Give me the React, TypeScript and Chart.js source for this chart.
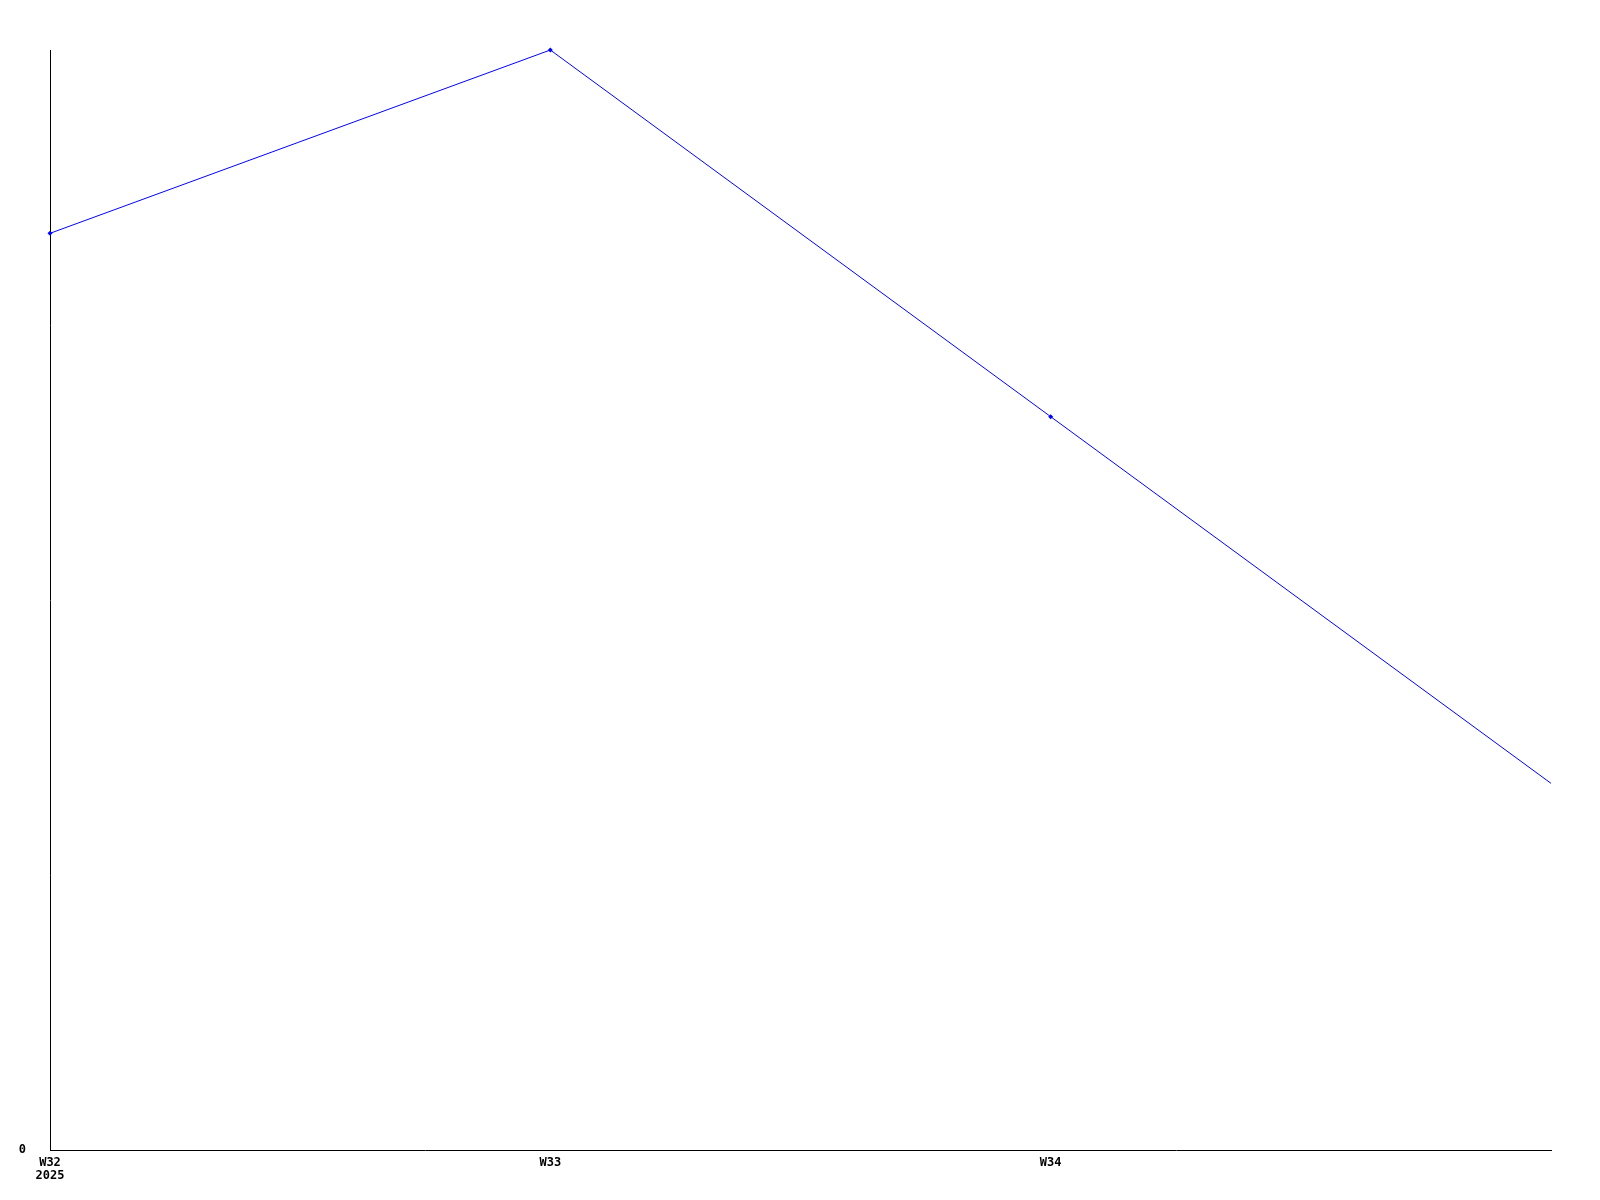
import React, { useEffect, useRef } from "react";
import { Chart, registerables } from "chart.js";

Chart.register(...registerables);

const weeks: (string | string[])[] = [["W32", "2025"], "W33", "W34", ""];
const values: number[] = [5, 6, 4, 2];
const pointSizes: number[] = [2.5, 2.5, 2.5, 0];
const yMin = 0;
const yMax = 6;

export default function App() {
  const ref = useRef<HTMLCanvasElement | null>(null);
  useEffect(() => {
    if (!ref.current) return;
    const chart = new Chart(ref.current, {
      type: "line",
      data: {
        labels: weeks,
        datasets: [
          {
            data: values,
            borderColor: "#0000ff",
            backgroundColor: "#0000ff",
            borderWidth: 1,
            pointRadius: pointSizes,
            pointBorderWidth: 0,
            pointStyle: "rectRot",
            tension: 0,
            fill: false,
            clip: false as any,
          },
        ],
      },
      options: {
        animation: false,
        responsive: false,
        maintainAspectRatio: false,
        layout: { padding: { left: 0, top: 50, right: 49, bottom: 0 } },
        plugins: { legend: { display: false }, tooltip: { enabled: false } },
        scales: {
          x: {
            offset: false,
            grid: { display: false, drawTicks: false },
            border: { display: true, color: "#000000", width: 1 },
            ticks: {
              color: "#000000",
              padding: 6,
              maxRotation: 0,
              autoSkip: false,
              font: { family: "DejaVu Sans Mono", size: 12, weight: "bold", lineHeight: 1.1 },
            },
            afterFit: (s: any) => {
              s.height = 50;
            },
          },
          y: {
            min: yMin,
            max: yMax,
            grid: { display: false, drawTicks: false },
            border: { display: true, color: "#000000", width: 1 },
            ticks: {
              stepSize: yMax,
              color: "#000000",
              padding: 24,
              font: { family: "DejaVu Sans Mono", size: 12, weight: "bold" },
              callback: (v: any) => (Number(v) === 0 ? "0" : ""),
            },
            afterFit: (s: any) => {
              s.width = 50;
            },
          },
        },
      },
    });
    return () => chart.destroy();
  }, []);
  return (
    <div style={{ position: "fixed", left: 0, top: 0, width: 1600, height: 1200, background: "#fff" }}>
      <canvas ref={ref} width={1600} height={1200} style={{ width: 1600, height: 1200 }} />
    </div>
  );
}
